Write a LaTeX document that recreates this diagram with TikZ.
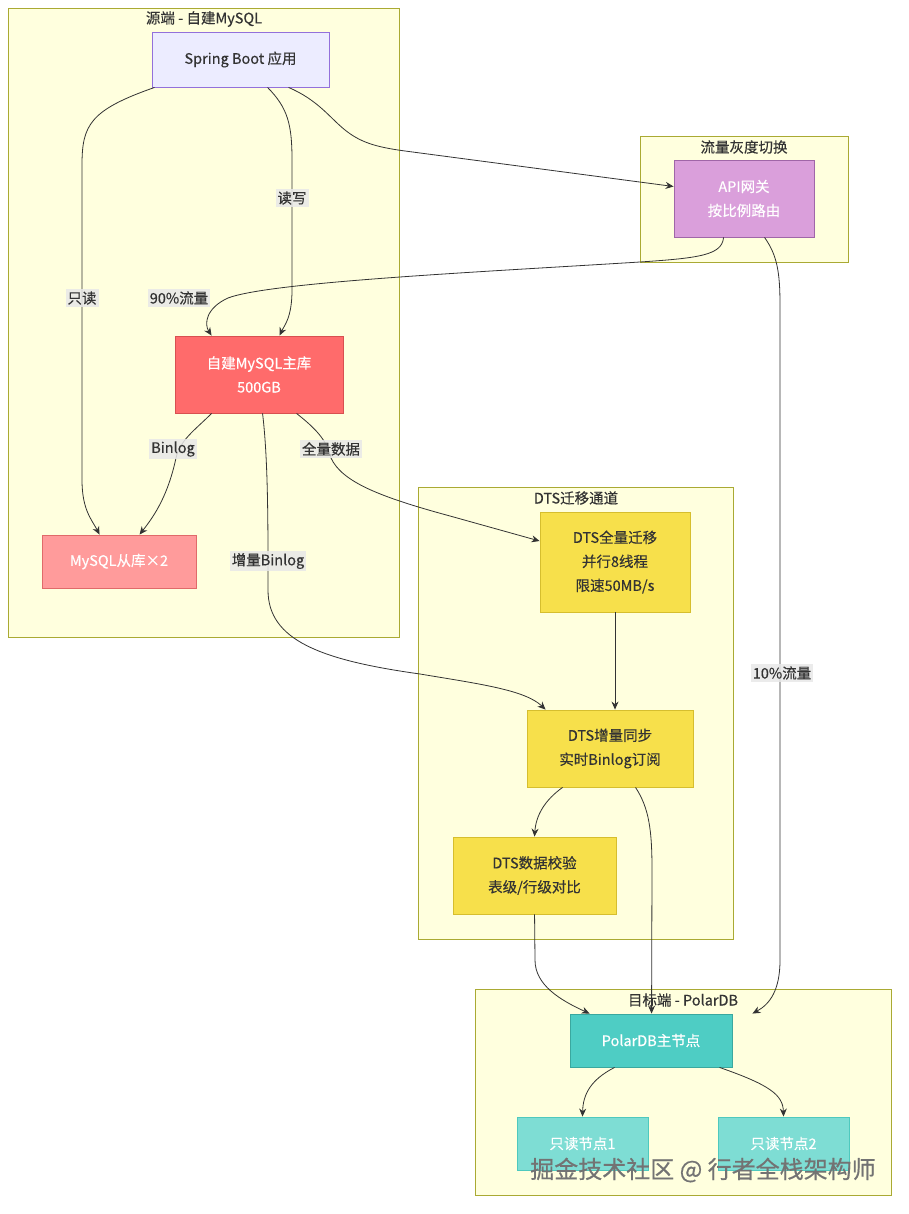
\documentclass[tikz,border=0pt]{standalone}
\usepackage{fontspec}
\setmainfont[FakeBold=0.35]{Noto Sans CJK SC}
\newfontfamily\wmfont[FakeBold=0.5]{Noto Sans CJK SC}
\usetikzlibrary{arrows.meta,calc}
\definecolor{clfill}{HTML}{FFFFDE}
\definecolor{cldraw}{HTML}{AAAA33}
\definecolor{txt}{HTML}{333333}
\definecolor{sbfill}{HTML}{ECECFF}
\definecolor{sbdraw}{HTML}{9370DB}
\definecolor{apifill}{HTML}{DA9FDB}
\definecolor{apidraw}{HTML}{A066A8}
\definecolor{mfill}{HTML}{FF6B6B}
\definecolor{mdraw}{HTML}{D85050}
\definecolor{sfill}{HTML}{FF9B9B}
\definecolor{sdraw}{HTML}{E06A6A}
\definecolor{yfill}{HTML}{F7E04B}
\definecolor{ydraw}{HTML}{D6BE2E}
\definecolor{pfill}{HTML}{4ECDC4}
\definecolor{pdraw}{HTML}{3AA89F}
\definecolor{rfill}{HTML}{7EDDD4}
\definecolor{rdraw}{HTML}{4EC9BE}
\definecolor{lblbg}{HTML}{E8E8E8}
\begin{document}
\begin{tikzpicture}[x=1pt,y=-1pt,
  every node/.style={font=\fontsize{14.5}{24}\selectfont},
  cluster/.style={draw=cldraw,fill=clfill,line width=0.9pt},
  ctitle/.style={text=txt,inner sep=0pt},
  box/.style={rectangle,line width=0.9pt,align=center,inner sep=0pt},
  conn/.style={draw=txt,line width=0.8pt,-{Stealth[length=8pt,width=7pt]}},
  elabel/.style={fill=lblbg,fill opacity=0.85,text opacity=1,text=txt,inner sep=2pt},
  wm/.style={font=\wmfont\fontsize{24}{28}\selectfont,inner sep=0pt}]
\useasboundingbox (0,0) rectangle (908,1214);
\fill[white] (0,0) rectangle (908,1214);
% clusters
\draw[cluster] (8,8) rectangle (399,637);
\node[ctitle] (t1) at (204,19) {源端 - 自建MySQL};
\draw[cluster] (640,136) rectangle (848,262);
\node[ctitle] (t2) at (744,147) {流量灰度切换};
\draw[cluster] (418,487) rectangle (733,939);
\node[ctitle] (t3) at (576,498) {DTS迁移通道};
\draw[cluster] (475,989) rectangle (891,1195);
\node[ctitle] (t4) at (683,1000) {目标端 - PolarDB};
% nodes
\node[box,fill=sbfill,draw=sbdraw,text=txt,minimum width=177pt,minimum height=55pt] (sb) at (240.5,59.5) {Spring Boot 应用};
\node[box,fill=apifill,draw=apidraw,text=white,minimum width=140pt,minimum height=77pt] (api) at (744,198.5) {API网关\\按比例路由};
\node[box,fill=mfill,draw=mdraw,text=white,minimum width=168pt,minimum height=77pt] (m) at (259,374.5) {自建MySQL主库\\500GB};
\node[box,fill=sfill,draw=sdraw,text=white,minimum width=154pt,minimum height=53pt] (s) at (119,561.5) {MySQL从库×2};
\node[box,fill=yfill,draw=ydraw,text=txt,minimum width=150pt,minimum height=100pt] (d1) at (615,562) {DTS全量迁移\\并行8线程\\限速50MB/s};
\node[box,fill=yfill,draw=ydraw,text=txt,minimum width=166pt,minimum height=77pt] (d2) at (610,748.5) {DTS增量同步\\实时Binlog订阅};
\node[box,fill=yfill,draw=ydraw,text=txt,minimum width=163pt,minimum height=77pt] (d3) at (534.5,875.5) {DTS数据校验\\表级/行级对比};
\node[box,fill=pfill,draw=pdraw,text=white,minimum width=162pt,minimum height=53pt] (p) at (651,1040.5) {PolarDB主节点};
\node[box,fill=rfill,draw=rdraw,text=white,minimum width=131pt,minimum height=53pt] (r1) at (582.5,1143.5) {只读节点1};
\node[box,fill=rfill,draw=rdraw,text=white,minimum width=131pt,minimum height=53pt] (r2) at (783.5,1143.5) {只读节点2};
% edges
\draw[conn] ($(sb.south west)+(3,0)$) .. controls (90,110) and (82,125) .. (82,165) -- (82,480) .. controls (82,510) and (92,520) .. ($(s.north west)+(58,0)$);
\draw[conn] ($(sb.south west)+(116,0)$) .. controls (288,108) and (292,125) .. (292,160) -- (292,290) .. controls (292,318) and (284,326) .. ($(m.north west)+(105,0)$);
\draw[conn] ($(sb.south west)+(137,0)$) .. controls (318,100) and (330,118) .. (345,130) .. controls (360,142) and (375,147) .. (405,151) -- ($(api.west)+(0,-12)$);
\draw[conn] ($(api.south west)+(50,0)$) .. controls (722,255) and (700,258) .. (640,262) .. controls (480,272) and (270,282) .. (228,298) .. controls (206,308) and (204,324) .. ($(m.north west)+(37,0)$);
\draw[conn] ($(m.south west)+(37,0)$) .. controls (195,430) and (180,440) .. (176,458) .. controls (168,495) and (155,515) .. ($(s.north west)+(98,0)$);
\draw[conn] ($(m.south west)+(122,0)$) .. controls (315,428) and (327,440) .. (331,458) .. controls (342,482) and (380,497) .. (450,516) -- ($(d1.west)+(0,-21)$);
\draw[conn] ($(m.south west)+(88,0)$) .. controls (267,450) and (268,500) .. (268,561) -- (268,590) .. controls (268,640) and (320,660) .. (420,674) .. controls (480,684) and (525,690) .. ($(d2.north west)+(19,0)$);
\draw[conn] (d1.south) -- (d1.south |- d2.north);
\draw[conn] ($(d2.south west)+(36,0)$) .. controls (545,800) and (536,815) .. (d3.north);
\draw[conn] ($(d2.south west)+(109,0)$) .. controls (649,808) and (652,830) .. (652,870) -- ($(p.north west)+(82,0)$);
\draw[conn] ($(d3.south west)+(82,0)$) -- (535,960) .. controls (535,985) and (560,1000) .. ($(p.north west)+(20,0)$);
\draw[conn] ($(api.south west)+(91,0)$) .. controls (777,255) and (780,272) .. (780,305) -- (780,960) .. controls (780,990) and (770,1004) .. ($(p.north east)+(20,0)$);
\draw[conn] ($(p.south west)+(45,0)$) .. controls (590,1080) and (583,1095) .. (r1.north);
\draw[conn] ($(p.south west)+(150,0)$) .. controls (770,1085) and (783,1095) .. (r2.north);
% edge labels
\node[elabel] (l1) at (82,298) {只读};
\node[elabel] (l2) at (292,198) {读写};
\node[elabel] (l3) at (179,298) {90\%流量};
\node[elabel] (l4) at (173,449) {Binlog};
\node[elabel] (l5) at (331,449) {全量数据};
\node[elabel] (l6) at (268,561) {增量Binlog};
\node[elabel] (l7) at (782,673) {10\%流量};
% watermark
\node[wm,text=black!55] (wm) at (703,1170) {掘金技术社区 @ 行者全栈架构师};
\end{tikzpicture}
\end{document}
